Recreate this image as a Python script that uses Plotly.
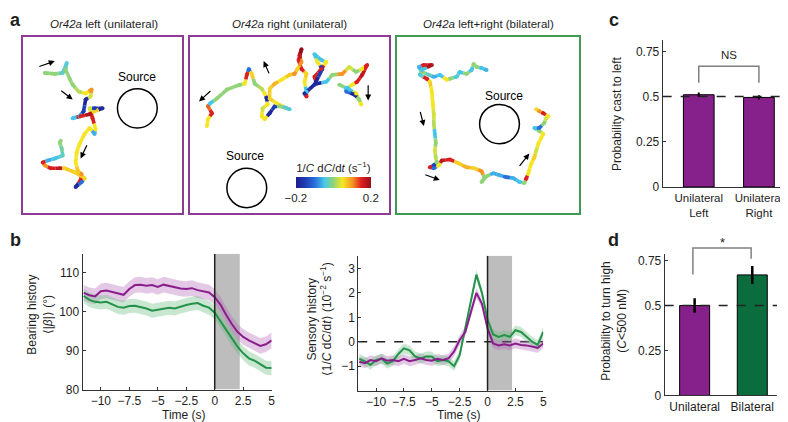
import plotly.graph_objects as go
from plotly.colors import sample_colorscale

W, H = 788, 422
FONT = "Liberation Sans, Arial, Helvetica, sans-serif"
TXT = "#1e1e1e"

# ---------------- data ----------------
# panel a: trajectories (image pixel coordinates inside each arena) and 1/C dC/dt colour value
traj_left_x = [37, 47, 55, 59, 58, 62, 65, 71, 78, 84, 83, 78, 76, 72, 65, 73, 82, 87, 95, 87, 82, 85, 88, 87, 82, 77, 72, 69, 68, 70, 74, 73, 68, 74, 77, 67, 57, 52, 43, 37, 35, 40, 47, 55, 54, 52, 53]
traj_left_y = [66, 67, 66, 56, 63, 72, 78, 85, 87, 83, 90, 93, 105, 110, 112, 110, 108, 105, 102, 102, 102, 112, 123, 128, 122, 128, 138, 147, 157, 165, 169, 175, 182, 177, 173, 167, 163, 163, 163, 160, 157, 155, 153, 150, 143, 137, 135]
traj_left_c = [0.0, 0.0, -0.03, -0.04, 0.0, 0.0, 0.0, 0.02, 0.05, 0.1, 0.03, -0.18, -0.15, -0.06, -0.05, 0.15, 0.18, 0.06, -0.18, -0.15, 0.03, 0.15, 0.05, -0.06, 0.05, 0.05, 0.05, 0.05, 0.05, 0.07, 0.1, 0.15, -0.18, -0.1, 0.06, 0.06, 0.06, 0.17, 0.15, 0.1, 0.15, -0.06, -0.05, -0.03, -0.02, 0.0, 0.0]

traj_right_x = [200, 201, 205, 201, 203, 210, 220, 233, 238, 240, 242, 245, 248, 255, 258, 260, 261, 256, 255, 258, 263, 268, 273, 283, 270, 263, 263, 268, 275, 283, 288, 291, 295, 293, 295, 292, 295, 300, 298, 300, 300, 298, 308, 316, 311, 308, 315, 320, 315, 308, 310, 320, 326, 336, 343, 350, 356, 361, 356, 351, 346, 340, 340, 348, 353, 355, 350, 343, 333]
traj_right_y = [120, 113, 107, 100, 97, 92, 83, 78, 77, 68, 62, 67, 77, 82, 87, 92, 98, 102, 110, 113, 107, 100, 100, 103, 97, 92, 82, 77, 73, 68, 67, 62, 55, 48, 42, 53, 62, 67, 75, 85, 90, 87, 78, 62, 55, 47, 53, 55, 62, 70, 77, 75, 68, 67, 60, 65, 62, 58, 68, 75, 78, 82, 85, 88, 93, 98, 87, 83, 78]
traj_right_c = [0.05, 0.05, 0.15, 0.12, -0.05, 0.0, 0.0, 0.0, 0.05, 0.15, -0.1, 0.06, 0.0, 0.02, 0.05, -0.18, 0.05, 0.03, 0.05, 0.05, -0.18, -0.15, 0.0, -0.04, 0.05, 0.06, 0.06, 0.08, 0.05, 0.07, 0.1, 0.06, 0.1, 0.17, 0.2, 0.15, 0.15, 0.06, 0.05, -0.05, 0.15, -0.18, -0.18, -0.15, 0.05, -0.05, -0.05, 0.05, 0.15, 0.15, -0.18, -0.05, 0.0, 0.1, 0.03, 0.0, 0.05, 0.15, 0.17, 0.15, 0.05, -0.05, -0.1, -0.18, 0.0, 0.05, 0.05, -0.05, 0.0]

traj_bi_x = [481, 476, 471, 468, 466, 461, 454, 451, 444, 441, 434, 428, 423, 416, 413, 418, 426, 416, 414, 421, 424, 426, 427, 428, 428, 429, 430, 429, 430, 431, 428, 424, 428, 433, 436, 444, 453, 461, 469, 476, 479, 476, 481, 488, 494, 501, 508, 514, 519, 521, 523, 526, 529, 531, 533, 536, 538, 534, 529, 534, 539, 541, 543, 538, 534, 531]
traj_bi_y = [63, 61, 60, 57, 63, 67, 65, 70, 72, 73, 68, 70, 68, 65, 60, 58, 58, 63, 68, 72, 75, 85, 98, 108, 118, 128, 137, 145, 152, 157, 160, 162, 163, 160, 155, 154, 158, 162, 163, 166, 173, 177, 171, 168, 170, 172, 173, 177, 178, 173, 168, 158, 152, 145, 138, 132, 128, 125, 122, 122, 117, 112, 110, 107, 105, 103]
traj_bi_c = [-0.06, -0.05, 0.0, 0.0, -0.05, 0.0, -0.05, -0.04, 0.0, 0.05, -0.05, -0.06, -0.03, 0.0, -0.06, 0.15, 0.18, -0.05, -0.04, 0.15, 0.06, 0.05, 0.05, 0.03, 0.02, -0.05, 0.0, 0.03, 0.02, 0.0, -0.15, 0.15, -0.1, 0.05, 0.17, 0.15, 0.06, 0.08, 0.06, 0.1, 0.0, 0.0, 0.0, -0.06, -0.06, -0.1, -0.06, -0.05, 0.0, 0.15, 0.05, 0.05, 0.06, 0.03, 0.05, 0.05, 0.05, 0.0, -0.05, -0.1, 0.0, 0.03, 0.05, 0.15, 0.1, 0.06]

# panel b: time course
time_s = [-11.5, -11, -10.5, -10, -9.5, -9, -8.5, -8, -7.5, -7, -6.5, -6, -5.5, -5, -4.5, -4, -3.5, -3, -2.5, -2, -1.5, -1, -0.5, 0, 0.5, 1, 1.5, 2, 2.5, 3, 3.5, 4, 4.5, 5]
bearing_unilateral = [104.8, 104.2, 103.9, 105.2, 105.4, 105.0, 104.6, 104.3, 105.8, 106.8, 106.9, 106.6, 106.8, 106.3, 106.9, 106.5, 106.2, 105.9, 105.8, 106.0, 105.5, 105.2, 104.9, 103.7, 101.8, 99.2, 96.8, 94.8, 93.5, 92.6, 92.0, 91.2, 91.6, 92.6]
bearing_bilateral = [104.0, 103.0, 102.5, 102.3, 102.5, 101.8, 101.2, 101.0, 101.4, 101.5, 101.2, 100.8, 100.2, 100.5, 100.7, 101.0, 100.8, 101.3, 101.7, 102.0, 102.2, 101.5, 101.0, 99.7, 97.5, 95.5, 93.0, 91.0, 89.3, 88.0, 87.4, 86.6, 85.6, 85.5]
bearing_sem_unilateral = 2.0
bearing_sem_bilateral = 1.8
sensory_unilateral = [-0.82, -0.88, -0.75, -0.8, -0.68, -0.78, -0.75, -0.8, -0.7, -0.8, -0.75, -0.68, -0.75, -0.78, -0.7, -0.75, -0.68, -0.4, 0.07, 0.4, 1.2, 2.0, 1.55, 0.55, -0.07, -0.15, -0.1, -0.15, -0.07, -0.13, -0.15, -0.2, -0.25, -0.07]
sensory_bilateral = [-0.7, -0.8, -0.95, -0.75, -0.7, -0.9, -0.8, -0.5, -0.27, -0.35, -0.6, -0.68, -0.6, -0.6, -0.8, -0.75, -0.8, -1.0, -0.55, 0.55, 1.75, 2.75, 2.0, 0.9, 0.3, 0.2, 0.27, 0.2, 0.47, 0.4, 0.2, 0.0, -0.13, 0.4]
sensory_sem = 0.2
window_end_s = 2.2

# panel c
cast_labels = ["Unilateral<br>Left", "Unilateral<br>Right"]
cast_left_prob = [0.51, 0.495]
cast_left_err = [0.012, 0.012]

# panel d
turn_labels = ["Unilateral", "Bilateral"]
turn_high_prob = [0.50, 0.67]
turn_high_err = [0.04, 0.05]

# ---------------- styling ----------------
BOX_PURPLE = "#8e3b93"
BOX_GREEN = "#3f9a55"
LINE_PURPLE = "#8a1f8c"
LINE_GREEN = "#24924a"
BAND_PURPLE = "rgba(175,100,180,0.35)"
BAND_GREEN = "rgba(100,185,120,0.35)"
BAR_PURPLE = "#86208a"
BAR_GREEN = "#0b6d3d"
AXC = "#333333"
CSCALE = [[0, "rgb(30,30,140)"], [0.12, "rgb(30,60,180)"], [0.25, "rgb(40,110,220)"],
          [0.38, "rgb(70,200,235)"], [0.5, "rgb(145,212,120)"], [0.62, "rgb(245,232,35)"],
          [0.75, "rgb(245,150,35)"], [0.87, "rgb(222,32,32)"], [1, "rgb(150,15,25)"]]


def dom_x(x0, x1):
    return [x0 / W, x1 / W]


def dom_y(top, bottom):
    return [1 - bottom / H, 1 - top / H]


fig = go.Figure()

# ---------- panel a ----------
NB = 25


def add_path(xs, ys, cs, xa, ya, showscale=False):
    groups = {}
    for i in range(len(xs) - 1):
        mx = (xs[i] + xs[i + 1]) / 2
        my = (ys[i] + ys[i + 1]) / 2
        for (xa0, ya0, xa1, ya1, c) in [(xs[i], ys[i], mx, my, cs[i]), (mx, my, xs[i + 1], ys[i + 1], cs[i + 1])]:
            b = round((min(max(c, -0.2), 0.2) + 0.2) / 0.4 * (NB - 1))
            g = groups.setdefault(b, ([], []))
            g[0].extend([xa0, xa1, None])
            g[1].extend([ya0, ya1, None])
    for b, (gx, gy) in groups.items():
        col = sample_colorscale(CSCALE, [b / (NB - 1)])[0]
        fig.add_trace(go.Scatter(x=gx, y=gy, mode="lines", line=dict(color=col, width=3.6),
                                 xaxis=xa, yaxis=ya, hoverinfo="skip", showlegend=False))
    mk = dict(size=4, color=cs, colorscale=CSCALE, cmin=-0.2, cmax=0.2, line=dict(width=0))
    if showscale:
        mk["showscale"] = True
        mk["colorbar"] = dict(
            orientation="h", x=327 / W, xanchor="center", y=1 - 195 / H, yanchor="bottom",
            len=75, lenmode="pixels", thickness=11, thicknessmode="pixels",
            tickvals=[-0.2, 0.2], ticktext=["\u22120.2", "0.2"], ticks="", outlinewidth=0,
            tickfont=dict(family=FONT, size=11.5, color=TXT), xpad=0, ypad=0,
            title=dict(text="1/<i>C</i> d<i>C</i>/d<i>t</i> (s<sup>\u22121</sup>)", side="top",
                       font=dict(family=FONT, size=11.5, color=TXT)))
    fig.add_trace(go.Scatter(x=xs, y=ys, mode="markers", marker=mk, xaxis=xa, yaxis=ya,
                             hoverinfo="skip", showlegend=False))


add_path(traj_left_x, traj_left_y, traj_left_c, "x", "y")
add_path(traj_right_x, traj_right_y, traj_right_c, "x2", "y2", showscale=True)
add_path(traj_bi_x, traj_bi_y, traj_bi_c, "x3", "y3")

box_axes = [("", (15, 175), (29, 208), BOX_PURPLE),
            ("2", (183, 383), (29, 208), BOX_PURPLE),
            ("3", (391, 574), (29, 208), BOX_GREEN)]
for sfx, (bx0, bx1), (by0, by1), col in box_axes:
    ax = dict(showline=True, mirror=True, linecolor=col, linewidth=2, showticklabels=False,
              ticks="", showgrid=False, zeroline=False, fixedrange=True)
    fig.layout["xaxis" + sfx] = dict(ax, domain=dom_x(bx0, bx1), range=[bx0, bx1],
                                     anchor="y" + sfx)
    fig.layout["yaxis" + sfx] = dict(ax, domain=dom_y(by0, by1), range=[by1, by0],
                                     anchor="x" + sfx)

shapes = []
annotations = []


def ptext(text, x, y, size=12, angle=0, bold=False):
    annotations.append(dict(text=("<b>%s</b>" % text) if bold else text, xref="paper", yref="paper",
                            x=x / W, y=1 - y / H, xanchor="center", yanchor="middle", textangle=angle,
                            showarrow=False, font=dict(family=FONT, size=size, color=TXT)))


# source circles + labels
sources = [("x", "y", 130, 102, 130, 70), ("x2", "y2", 240, 183, 238, 150), ("x3", "y3", 494, 118, 499, 89)]
for xa, ya, cx, cy, tx, ty in sources:
    shapes.append(dict(type="circle", xref=xa, yref=ya, x0=cx - 20, x1=cx + 20, y0=cy - 20, y1=cy + 20,
                       line=dict(color="black", width=1.5)))
    annotations.append(dict(text="Source", xref=xa, yref=ya, x=tx, y=ty, showarrow=False,
                            xanchor="center", yanchor="middle",
                            font=dict(family=FONT, size=12, color="black")))

# direction arrows (tail -> head)
arrows = [("x", "y", 30, 60, 47, 54), ("x", "y", 52, 83, 65, 93), ("x", "y", 80, 138, 73, 153),
          ("x2", "y2", 205, 83, 192, 95), ("x2", "y2", 263, 68, 257, 54), ("x2", "y2", 362, 77, 362, 94),
          ("x3", "y3", 414, 104, 418, 120), ("x3", "y3", 418, 169, 434, 175), ("x3", "y3", 513, 162, 524, 148)]
for xa, ya, tx, ty, hx, hy in arrows:
    annotations.append(dict(text="", xref=xa, yref=ya, axref=xa, ayref=ya, x=hx, y=hy, ax=tx, ay=ty,
                            showarrow=True, arrowhead=2, arrowsize=1, arrowwidth=1.2, arrowcolor="black"))

for cx, t in [(96, "<i>Or42a</i> left (unilateral)"), (283, "<i>Or42a</i> right (unilateral)"),
              (483, "<i>Or42a</i> left+right (bilateral)")]:
    ptext(t, cx, 16, size=11.5)

for lab, lx, ly in [("a", 8, 12), ("b", 8, 236), ("c", 609, 12), ("d", 609, 236)]:
    ptext(lab, lx, ly, size=18, bold=True)

# ---------- panel b ----------
tick_font = dict(family=FONT, size=12, color=TXT)
base_ax = dict(showline=True, linecolor=AXC, linewidth=1, ticks="inside", ticklen=3, tickcolor=AXC,
               showgrid=False, zeroline=False, tickfont=tick_font, fixedrange=True)
time_ticks = [-10, -7.5, -5, -2.5, 0, 2.5, 5]
time_text = [("\u2212" + str(abs(v)).replace(".0", "") if v < 0 else str(v).replace(".0", "")) for v in time_ticks]

panels_b = [("4", (75, 265), (250, 388), [80, 114.8], [80, 90, 100, 110],
             [bearing_unilateral, bearing_bilateral], [bearing_sem_unilateral, bearing_sem_bilateral], 177),
            ("5", (352, 538), (252, 389), [-2.0, 3.52], [-1, 0, 1, 2, 3],
             [sensory_unilateral, sensory_bilateral], [sensory_sem, sensory_sem], 453)]
for sfx, (bx0, bx1), (by0, by1), yr, yt, series, sems, tx in panels_b:
    xa, ya = "x" + sfx, "y" + sfx
    fig.layout["xaxis" + sfx] = dict(base_ax, domain=dom_x(bx0, bx1), range=[-11.6, 5], anchor=ya,
                                     tickvals=time_ticks, ticktext=time_text)
    fig.layout["yaxis" + sfx] = dict(base_ax, domain=dom_y(by0, by1), range=yr, anchor=xa,
                                     tickvals=yt, ticktext=[("\u2212%d" % -v if v < 0 else "%d" % v) for v in yt])
    shapes.append(dict(type="rect", xref=xa, yref=ya, x0=0, x1=window_end_s, y0=yr[0], y1=yr[1],
                       fillcolor="#bdbdbd", line=dict(width=0), layer="below"))
    if sfx == "5":
        fig.add_trace(go.Scatter(x=[-11.6, 5], y=[0, 0], mode="lines", xaxis=xa, yaxis=ya,
                                 line=dict(color="#222", width=1.5, dash="dash"), hoverinfo="skip",
                                 showlegend=False))
    for vals, sem, bc in [(series[0], sems[0], BAND_PURPLE), (series[1], sems[1], BAND_GREEN)]:
        up = [v + sem for v in vals]
        lo = [v - sem for v in vals]
        fig.add_trace(go.Scatter(x=time_s + time_s[::-1], y=up + lo[::-1], fill="toself", fillcolor=bc,
                                 line=dict(width=0), mode="lines", xaxis=xa, yaxis=ya, hoverinfo="skip",
                                 showlegend=False))
    for vals, lc in [(series[1], LINE_GREEN), (series[0], LINE_PURPLE)]:
        fig.add_trace(go.Scatter(x=time_s, y=vals, mode="lines", line=dict(color=lc, width=2),
                                 xaxis=xa, yaxis=ya, hoverinfo="skip", showlegend=False))
    shapes.append(dict(type="line", xref=xa, yref=ya, x0=0, x1=0, y0=yr[0], y1=yr[1],
                       line=dict(color="#222", width=1.5)))
    ptext("Time (s)", tx, 414, size=12)

ptext("Bearing history<br>\u27e8|<i>\u03b2</i>|\u27e9 (\u00b0)", 32, 312, angle=-90)
ptext("Sensory history<br>\u27e81/<i>C</i> d<i>C</i>/d<i>t</i>\u27e9 (10<sup>\u22122</sup> s<sup>\u22121</sup>)",
      313, 316, angle=-90)

# ---------- panel c ----------
fig.add_trace(go.Bar(x=[0, 1], y=cast_left_prob, width=0.51, xaxis="x6", yaxis="y6",
                     marker=dict(color=BAR_PURPLE, line=dict(color="black", width=1)),
                     error_y=dict(type="data", array=cast_left_err, color="black", thickness=2, width=0),
                     hoverinfo="skip", showlegend=False))
fig.layout.xaxis6 = dict(base_ax, domain=dom_x(658, 785), range=[-0.6, 1.5], anchor="y6",
                         tickvals=[0, 1], ticktext=cast_labels, ticks="",
                         tickfont=dict(family=FONT, size=11.5, color=TXT))
fig.layout.yaxis6 = dict(base_ax, domain=dom_y(33, 182), range=[0, 0.81], anchor="x6",
                         tickvals=[0, 0.25, 0.5, 0.75], ticktext=["0", "0.25", "0.5", "0.75"])
shapes.append(dict(type="line", xref="x6", yref="y6", x0=-0.6, x1=1.5, y0=0.5, y1=0.5,
                   line=dict(color="#222", width=1.5, dash="dash")))
shapes.append(dict(type="path", xref="x6", yref="y6", path="M 0,0.576 L 0,0.668 L 1,0.668 L 1,0.576",
                   line=dict(color="#808080", width=1.5)))
annotations.append(dict(text="NS", xref="x6", yref="y6", x=0.5, y=0.73, showarrow=False,
                        xanchor="center", yanchor="middle", font=dict(family=FONT, size=11.5, color=TXT)))
ptext("Probability cast to left", 612, 107, angle=-90)

# ---------- panel d ----------
fig.add_trace(go.Bar(x=[0, 1], y=turn_high_prob, width=0.52, xaxis="x7", yaxis="y7",
                     marker=dict(color=[BAR_PURPLE, BAR_GREEN], line=dict(color="black", width=1)),
                     error_y=dict(type="data", array=turn_high_err, color="black", thickness=2.5, width=0),
                     hoverinfo="skip", showlegend=False))
d_xr, d_yr = [-0.52, 1.43], [0, 0.787]
d_dx, d_dy = dom_x(660, 773), dom_y(250, 394)
fig.layout.xaxis7 = dict(base_ax, domain=d_dx, range=d_xr, anchor="y7",
                         tickvals=[0, 1], ticktext=turn_labels, ticks="")
fig.layout.yaxis7 = dict(base_ax, domain=d_dy, range=d_yr, anchor="x7",
                         tickvals=[0, 0.25, 0.5, 0.75], ticktext=["0", "0.25", "0.5", "0.75"])
shapes.append(dict(type="line", xref="x7", yref="y7", x0=d_xr[0], x1=d_xr[1], y0=0.5, y1=0.5,
                   line=dict(color="#222", width=1.5, dash="dash")))


def dpx(v):
    return d_dx[0] + (v - d_xr[0]) / (d_xr[1] - d_xr[0]) * (d_dx[1] - d_dx[0])


def dpy(v):
    return d_dy[0] + (v - d_yr[0]) / (d_yr[1] - d_yr[0]) * (d_dy[1] - d_dy[0])


shapes.append(dict(type="path", xref="paper", yref="paper",
                   path="M %f,%f L %f,%f L %f,%f L %f,%f" % (dpx(-0.03), dpy(0.672), dpx(-0.03), dpy(0.82),
                                                             dpx(0.98), dpy(0.82), dpx(0.98), dpy(0.76)),
                   line=dict(color="#808080", width=1.5)))
annotations.append(dict(text="*", xref="paper", yref="paper", x=dpx(0.48), y=dpy(0.85), showarrow=False,
                        xanchor="center", yanchor="middle", font=dict(family=FONT, size=13, color=TXT)))
ptext("Probability to turn high<br>(<i>C</i>&lt;500 nM)", 609, 318, angle=-90)

fig.update_layout(width=W, height=H, margin=dict(l=0, r=0, t=0, b=0), paper_bgcolor="white",
                  plot_bgcolor="white", shapes=shapes, annotations=annotations, showlegend=False,
                  font=dict(family=FONT, color=TXT))

fig.write_html("out.html")
